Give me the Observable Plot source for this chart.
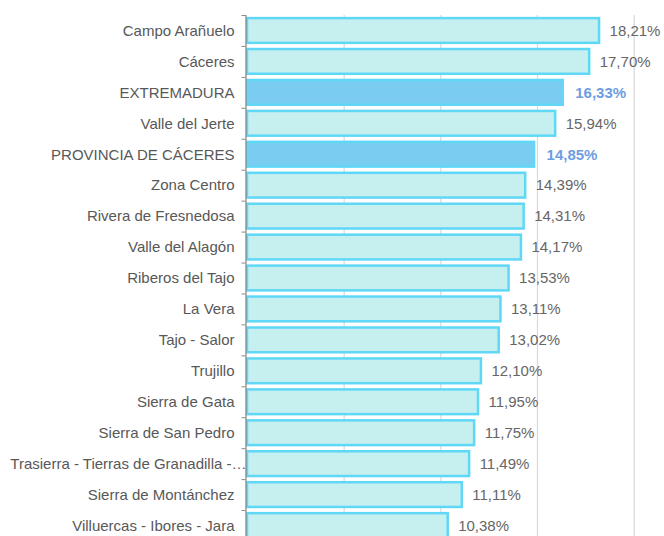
<!DOCTYPE html>
<html>
<head>
<meta charset="utf-8">
<script src="https://cdn.jsdelivr.net/npm/d3@7"></script>
<script src="https://cdn.jsdelivr.net/npm/@observablehq/plot@0.6"></script>
<style>
  html, body { margin: 0; padding: 0; overflow: hidden; background: #fff; }
  #chart svg { display: block; max-width: none !important; overflow: visible; }
</style>
</head>
<body>
<div id="chart"></div>
<script>
const categories = [
  "Campo Arañuelo", "Cáceres", "EXTREMADURA", "Valle del Jerte", "PROVINCIA DE CÁCERES",
  "Zona Centro", "Rivera de Fresnedosa", "Valle del Alagón", "Riberos del Tajo", "La Vera",
  "Tajo - Salor", "Trujillo", "Sierra de Gata", "Sierra de San Pedro",
  "Trasierra - Tierras de Granadilla -…", "Sierra de Montánchez", "Villuercas - Ibores - Jara"
];
const values = [18.21, 17.70, 16.33, 15.94, 14.85, 14.39, 14.31, 14.17, 13.53, 13.11, 13.02, 12.10, 11.95, 11.75, 11.49, 11.11, 10.38];
const highlighted = ["EXTREMADURA", "PROVINCIA DE CÁCERES"];
const truncated = ["Trasierra - Tierras de Granadilla -…"];
const gridTicks = [5, 10, 15, 20];

const data = categories.map((c, i) => ({name: c, value: values[i], hl: highlighted.includes(c)}));
const fmt = v => v.toFixed(2).replace(".", ",") + "%";

const width = 664, height = 545, marginTop = 15, marginBottom = 4, marginLeft = 247, marginRight = 0;
const step = (height - marginTop - marginBottom) / categories.length;

const chart = Plot.plot({
  width, height, marginTop, marginBottom, marginLeft, marginRight,
  style: {fontFamily: "'Liberation Sans', Arial, sans-serif", fontSize: "15px", color: "#5a5a5a", background: "#fff"},
  x: {domain: [0, 21.57], axis: null, round: false},
  y: {domain: categories, paddingInner: 0.2, paddingOuter: 0.1, align: 0.5, round: false, axis: null, label: null},
  marks: [
    Plot.gridX(gridTicks, {stroke: "#d9d9d9", strokeOpacity: 1, strokeWidth: 1.2}),
    Plot.barX(data, {
      y: "name", x: "value",
      fill: d => d.hl ? "#7acdf1" : "#c6eff0",
      stroke: "#5fd7f6", strokeWidth: 2.5
    }),
    Plot.ruleX([0], {stroke: "#8a8a8a", strokeWidth: 1.3, dx: -1.5}),
    Plot.axisY({tickSize: 4, tickFormat: () => "", dy: -step / 2, dx: -1.5, stroke: "#8a8a8a", label: null}),
    Plot.text(categories.filter(c => !truncated.includes(c)), {
      y: d => d, frameAnchor: "left", textAnchor: "end", dx: -13, fill: "#585858", fontSize: 15
    }),
    Plot.text(truncated, {
      y: d => d, frameAnchor: "left", textAnchor: "end", dx: -1, fill: "#585858", fontSize: 15
    }),
    Plot.text(data.filter(d => !d.hl), {
      y: "name", x: "value", text: d => fmt(d.value),
      textAnchor: "start", dx: 10, fill: "#666", fontSize: 15
    }),
    Plot.text(data.filter(d => d.hl), {
      y: "name", x: "value", text: d => fmt(d.value),
      textAnchor: "start", dx: 12, fill: "#6e9de2", fontSize: 15, fontWeight: 600
    })
  ]
});
document.getElementById("chart").appendChild(chart);
</script>
</body>
</html>
